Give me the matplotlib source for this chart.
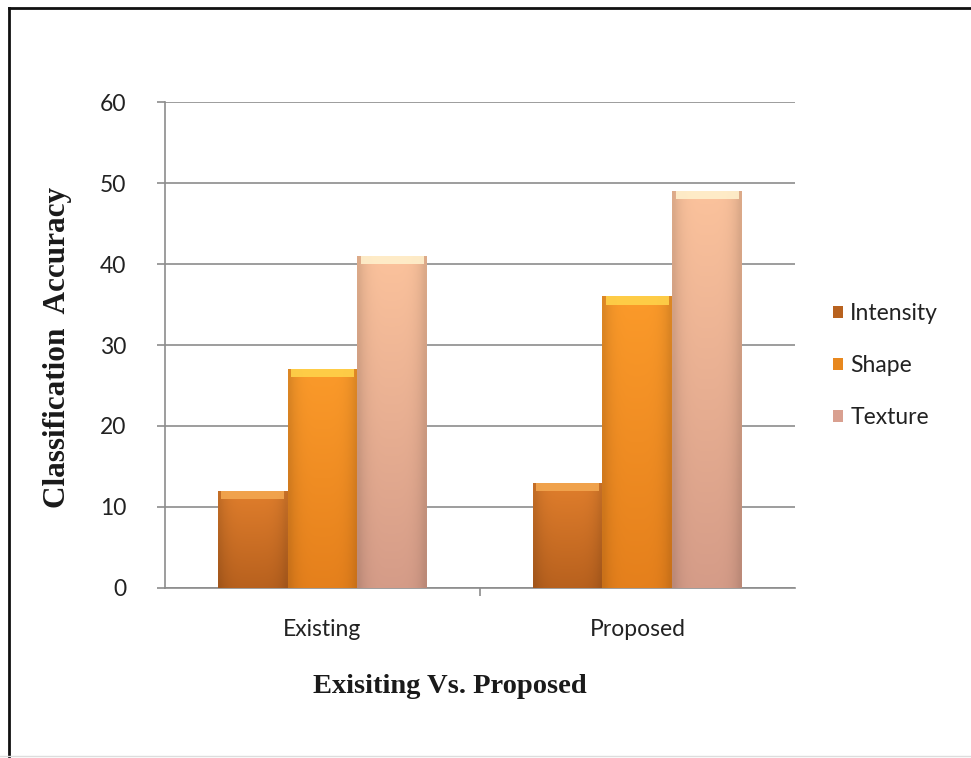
import matplotlib
matplotlib.use("Agg")
import matplotlib.pyplot as plt
import numpy as np
from matplotlib.colors import to_rgb
from matplotlib.patches import Rectangle, Patch

categories = ["Existing", "Proposed"]
series = ["Intensity", "Shape", "Texture"]
intensity = [12, 13]
shape = [27, 36]
texture = [41, 49]
values = [intensity, shape, texture]

top_colors = ["#e07e2c", "#fb9a2a", "#fbc29c"]
bottom_colors = ["#b8611e", "#e5801c", "#d59c88"]
bevel_colors = ["#f3a750", "#ffd24a", "#fff0cc"]

fig = plt.figure(figsize=(9.71, 7.58), dpi=100)
ax = fig.add_axes([0.1699, 0.2243, 0.6488, 0.6411])

x = np.arange(len(categories))
w = 0.222
offsets = [-w, 0, w]

def vertical_gradient(c_top, c_bot, n=64):
    t = np.linspace(0, 1, n)[:, None]
    a = np.array(to_rgb(c_top)); b = np.array(to_rgb(c_bot))
    img = (1 - t)[..., None] * a + t[..., None] * b
    img = np.repeat(img, 16, axis=1)
    h = np.linspace(-1, 1, 16)
    shade = 1 - 0.12 * np.abs(h) ** 4
    img = img * shade[None, :, None]
    return np.clip(img, 0, 1)

for i, s in enumerate(series):
    bars = ax.bar(x + offsets[i], values[i], width=w, color=top_colors[i],
                  edgecolor="none", zorder=3, label=s)
    for b in bars:
        x0, y0 = b.get_x(), b.get_y()
        bw, bh = b.get_width(), b.get_height()
        img = vertical_gradient(top_colors[i], bottom_colors[i])
        im = ax.imshow(img, extent=[x0, x0 + bw, y0, y0 + bh], origin="upper",
                       aspect="auto", zorder=4, interpolation="bilinear")
        im.set_clip_path(b)
        ax.add_patch(Rectangle((x0 + 0.01, y0 + bh - 1.0), bw - 0.02, 1.0,
                               facecolor=bevel_colors[i], edgecolor="none",
                               zorder=5, alpha=0.9))

ax.set_xlim(-0.5, 1.5)
ax.set_ylim(0, 60)
ax.set_yticks(np.arange(0, 61, 10))
ax.yaxis.grid(True, color="#8c8c8c", linewidth=1.2, zorder=0)
ax.set_axisbelow(True)

ax.set_xticks(x)
ax.set_xticklabels(categories)
ax.set_xticks([0.5], minor=True)
ax.tick_params(axis="x", which="major", length=0, pad=22, labelsize=16.5,
               labelcolor="#222222")
ax.tick_params(axis="x", which="minor", length=6, color="#8c8c8c", width=1.2)
ax.tick_params(axis="y", length=6, color="#8c8c8c", width=1.2, pad=22,
               labelsize=16.5, labelcolor="#222222")
for lab in ax.get_xticklabels() + ax.get_yticklabels():
    lab.set_fontfamily("Lato")

for sp in ["top", "right"]:
    ax.spines[sp].set_visible(False)
ax.spines["left"].set_color("#8c8c8c")
ax.spines["bottom"].set_color("#8c8c8c")
ax.spines["left"].set_linewidth(1.2)
ax.spines["bottom"].set_linewidth(1.2)

fig.text(0.059, 0.5418, "Classification  Accuracy", rotation=90,
         ha="center", va="center", fontsize=22.5, fontweight="bold",
         family="Liberation Serif", color="#1a1a1a")
fig.text(0.4635, 0.0937, "Exisiting Vs. Proposed", ha="center", va="center",
         fontsize=20.5, fontweight="bold", family="Liberation Serif",
         color="#1a1a1a")

handles = [Patch(facecolor="#b8621f", edgecolor="none"),
           Patch(facecolor="#e8881e", edgecolor="none"),
           Patch(facecolor="#d9a090", edgecolor="none")]
leg = fig.legend(handles, series, loc="center left",
                 bbox_to_anchor=(0.8366, 0.5179), frameon=False,
                 prop={"family": "Lato", "size": 16.5},
                 handlelength=0.45, handleheight=0.45, handletextpad=0.3,
                 labelspacing=1.35)
for t in leg.get_texts():
    t.set_color("#222222")

fig.add_artist(plt.Line2D([0.0088, 0.0088], [0.0, 0.9894],
                          transform=fig.transFigure, color="#111111", linewidth=2))
fig.add_artist(plt.Line2D([0.0088, 1.0], [0.9894, 0.9894],
                          transform=fig.transFigure, color="#111111", linewidth=2))
fig.add_artist(plt.Line2D([0.0, 1.0], [0.002, 0.002],
                          transform=fig.transFigure, color="#dddddd", linewidth=1))

fig.savefig("out.png", dpi=100, facecolor="white")
